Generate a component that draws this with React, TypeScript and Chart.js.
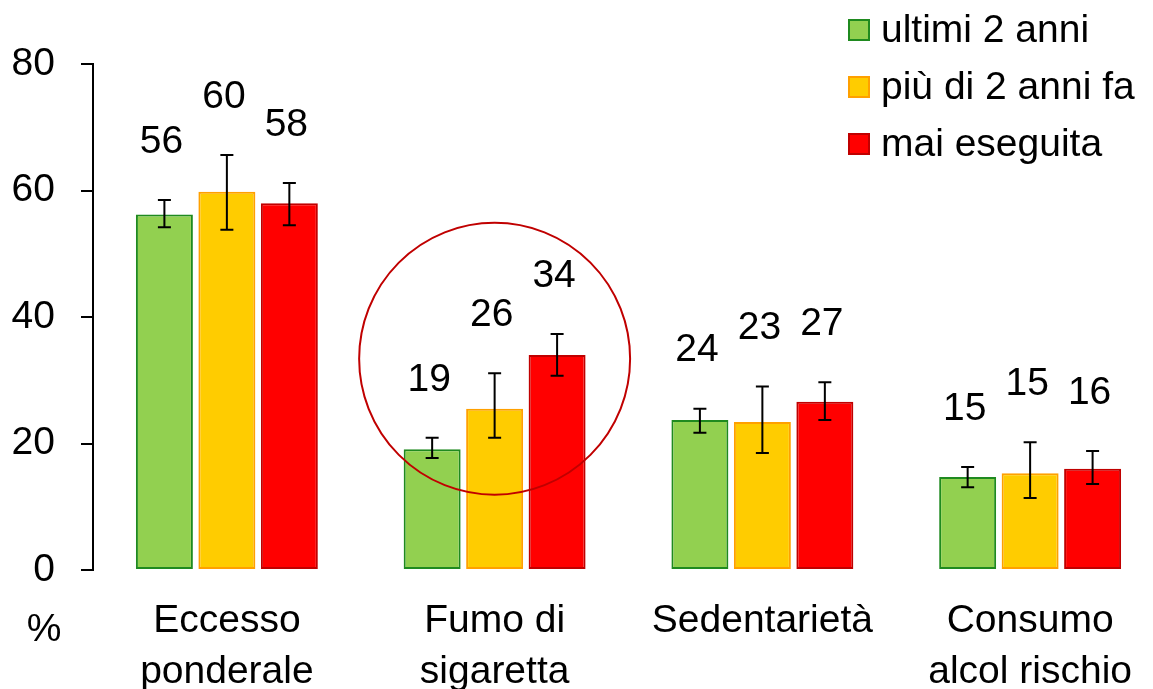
import React, { useEffect, useRef } from 'react';
import { Chart, registerables } from 'chart.js';
Chart.register(...registerables);

const categories = [['Eccesso', 'ponderale'], ['Fumo di', 'sigaretta'], ['Sedentarietà'], ['Consumo', 'alcol rischio']];
const seriesNames = ['ultimi 2 anni', 'più di 2 anni fa', 'mai eseguita'];
const recent = [56.2, 19.1, 23.7, 14.7];
const older = [59.8, 25.5, 23.4, 15.3];
const never = [58.0, 34.0, 26.6, 16.0];
const recentLow = [54.2, 17.7, 21.7, 13.1];
const recentHigh = [58.5, 20.9, 25.5, 16.3];
const olderLow = [53.8, 20.9, 18.5, 11.4];
const olderHigh = [65.6, 31.1, 29.0, 20.2];
const neverLow = [54.5, 30.7, 23.7, 13.6];
const neverHigh = [61.2, 37.3, 29.7, 18.8];
const yMin = 0;
const yMax = 80;
const yStep = 20;
const highlightCategory = 1;
const highlightCenterValue = 33.4;
const highlightRadiusValue = 21.5;

const fills = ['#92D050', '#FFCC00', '#FF0000'];
const borders = ['#1F8A1F', '#FFA000', '#C00000'];
const FONT = '"Liberation Sans", Arial, sans-serif';
const FS = 39;

const lows = [recentLow, olderLow, neverLow];
const highs = [recentHigh, olderHigh, neverHigh];

const overlay = {
  id: 'overlay',
  afterDatasetsDraw(chart: any) {
    const ctx = chart.ctx;
    const ys = chart.scales.y;
    const xs = chart.scales.x;
    ctx.save();
    // error bars
    ctx.strokeStyle = '#000';
    ctx.lineWidth = 2;
    chart.data.datasets.forEach((ds: any, i: number) => {
      const meta = chart.getDatasetMeta(i);
      meta.data.forEach((bar: any, j: number) => {
        const x = bar.x;
        const yl = ys.getPixelForValue(lows[i][j]);
        const yh = ys.getPixelForValue(highs[i][j]);
        ctx.strokeStyle = '#000';
        ctx.lineWidth = 2;
        ctx.beginPath();
        ctx.moveTo(x, yl); ctx.lineTo(x, yh);
        ctx.moveTo(x - 6.5, yl); ctx.lineTo(x + 6.5, yl);
        ctx.moveTo(x - 6.5, yh); ctx.lineTo(x + 6.5, yh);
        ctx.stroke();
        // value label
        ctx.fillStyle = '#000';
        ctx.font = `${FS}px ${FONT}`;
        ctx.textAlign = 'center';
        ctx.textBaseline = 'middle';
        ctx.fillText(String(Math.round(ds.data[j])), x - 3, yh - 58);
      });
    });
    // highlight ellipse
    const cx = xs.getPixelForValue(highlightCategory);
    const cy = ys.getPixelForValue(highlightCenterValue);
    const rx = 0.506 * (xs.width / categories.length);
    const ry = ys.getPixelForValue(0) - ys.getPixelForValue(highlightRadiusValue);
    ctx.beginPath();
    ctx.ellipse(cx, cy, rx, ry, 0, 0, Math.PI * 2);
    ctx.strokeStyle = '#C00000';
    ctx.lineWidth = 2;
    ctx.stroke();
    // legend
    ctx.font = `${FS}px ${FONT}`;
    ctx.textAlign = 'left';
    ctx.textBaseline = 'middle';
    seriesNames.forEach((name, i) => {
      const yc = 30 + i * 57;
      ctx.fillStyle = fills[i];
      ctx.fillRect(849, yc - 10, 20, 20);
      ctx.strokeStyle = borders[i];
      ctx.lineWidth = 2;
      ctx.strokeRect(849, yc - 10, 20, 20);
      ctx.fillStyle = '#000';
      ctx.fillText(name, 881, yc + 1);
    });
    // % unit
    ctx.textAlign = 'center';
    ctx.fillText('%', 44, 630);
    ctx.restore();
  },
};

export default function App() {
  const ref = useRef<HTMLCanvasElement>(null);
  useEffect(() => {
    document.body.style.margin = '0';
    document.body.style.overflow = 'hidden';
    const c = ref.current!;
    const chart = new Chart(c, {
      type: 'bar',
      data: {
        labels: categories as any,
        datasets: [recent, older, never].map((d, i) => ({
          label: seriesNames[i],
          data: d,
          backgroundColor: fills[i],
          borderColor: borders[i],
          borderWidth: 2,
          borderSkipped: false,
          categoryPercentage: 0.7,
          barPercentage: 0.912,
        })),
      },
      options: {
        responsive: false,
        animation: false,
        layout: { padding: { top: 64, left: 0, right: 0, bottom: 0 } },
        plugins: { legend: { display: false }, tooltip: { enabled: false } },
        scales: {
          x: {
            grid: { display: false, drawTicks: false },
            border: { display: false },
            ticks: { color: '#000', font: { family: FONT, size: FS, lineHeight: 1.31 }, padding: 26, maxRotation: 0, autoSkip: false },
            afterFit: (s: any) => { s.height = 119; },
          },
          y: {
            min: yMin,
            max: yMax,
            grid: { display: true, drawOnChartArea: false, drawTicks: true, tickLength: 12, color: '#000', lineWidth: 2 },
            border: { display: true, color: '#000', width: 2 },
            ticks: { stepSize: yStep, color: '#000', font: { family: FONT, size: FS }, padding: 26 },
            afterFit: (s: any) => { s.width = 93; },
          },
        },
      },
      plugins: [overlay],
    });
    return () => chart.destroy();
  }, []);
  return (
    <div style={{ width: 1153, height: 689, overflow: 'hidden' }}>
      <canvas ref={ref} width={1164} height={689} style={{ display: 'block' }} />
    </div>
  );
}
